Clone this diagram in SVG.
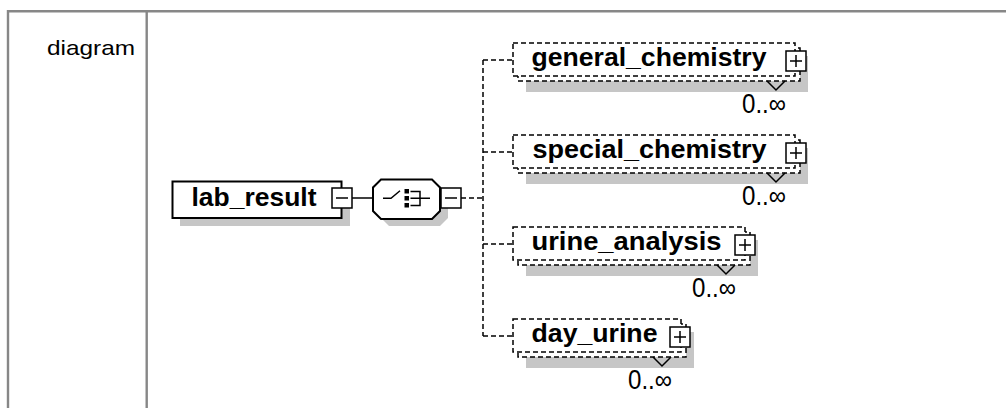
<svg xmlns="http://www.w3.org/2000/svg" width="1006" height="408" viewBox="0 0 1006 408">
  <style>
    .frame { fill: none; stroke: #878787; stroke-width: 2.4; }
    .shadow { fill: #c6c6c6; }
    .box { fill: #fff; stroke: #000; stroke-width: 2; }
    .opt { fill: #fff; stroke: #000; stroke-width: 1.5; stroke-dasharray: 5 3; }
    .btn { fill: #fff; stroke: #000; stroke-width: 1.5; }
    .glyph { fill: none; stroke: #000; stroke-width: 1.5; }
    .conn { fill: none; stroke: #000; stroke-width: 1.5; }
    .dashed { stroke-dasharray: 5 3; }
    .name { font-family: "Liberation Sans", Arial, sans-serif; font-weight: bold; font-size: 26px; fill: #000; }
    .card { font-family: "Liberation Sans", Arial, sans-serif; font-size: 27px; fill: #000; }
    .label { font-family: "Liberation Sans", Arial, sans-serif; font-size: 21px; fill: #000; }
  </style>
  <defs>
    <g id="minus">
      <rect class="btn" x="0" y="0" width="20" height="20"/>
      <path class="glyph" d="M4 10H16"/>
    </g>
    <g id="plus">
      <rect class="btn" x="0" y="0" width="20" height="20"/>
      <path class="glyph" d="M4 10H16M10 4V16"/>
    </g>
  </defs>

  <!-- table frame -->
  <rect width="1006" height="408" fill="#fff"/>
  <path class="frame" d="M8 408V11.3H1006M146.7 11.3V408"/>
  <text class="label" x="47" y="55" textLength="88" lengthAdjust="spacingAndGlyphs">diagram</text>

  <!-- connectors -->
  <g id="connectors">
    <path class="conn" d="M352 198H373"/>
    <path class="conn dashed" d="M461 198H483"/>
    <path class="conn dashed" d="M483 60V336"/>
    <path class="conn dashed" d="M483 60H513M483 152H513M483 244H513M483 336H513"/>
  </g>

  <!-- root element -->
  <g id="lab_result">
    <rect class="shadow" x="180" y="190" width="170" height="36"/>
    <rect class="box" x="172.5" y="181.5" width="169" height="36.5"/>
    <text class="name" x="191.5" y="206" textLength="125" lengthAdjust="spacingAndGlyphs">lab_result</text>
    <use href="#minus" x="332" y="188"/>
  </g>

  <!-- choice compositor -->
  <g id="choice">
    <path class="shadow" d="M389 186H440L448 194V218L440 226H389L381 218V194Z"/>
    <path class="box" stroke-width="1.6" d="M381 179.5H432L440 187.5V211L432 219H381L373 211V187.5Z"/>
    <path class="glyph" d="M383 198.3H391L400 190.7"/>
    <rect x="404.5" y="189" width="4.5" height="4.5" fill="#000"/>
    <rect x="404.5" y="196" width="4.5" height="4.5" fill="#000"/>
    <rect x="404.5" y="203" width="4.5" height="4.5" fill="#000"/>
    <path class="glyph" d="M410.5 191.5H420V205.5H410.5M410.5 198.3H430"/>
    <use href="#minus" x="441" y="188"/>
  </g>

  <!-- child elements (optional, repeating) -->
  <g id="general_chemistry">
    <rect class="shadow" x="526" y="56" width="282" height="36"/>
    <rect class="opt" x="518" y="48" width="282" height="33"/>
    <rect class="opt" x="513" y="43" width="282" height="33"/>
    <text class="name" x="531.5" y="65.5" textLength="235" lengthAdjust="spacingAndGlyphs">general_chemistry</text>
    <use href="#plus" x="786" y="51"/>
    <path class="glyph" stroke-width="1.3" d="M767 81L776 90L785 81"/>
    <text class="card" x="742" y="113" textLength="44" lengthAdjust="spacingAndGlyphs">0..∞</text>
  </g>

  <g id="special_chemistry">
    <rect class="shadow" x="526" y="148" width="282" height="36"/>
    <rect class="opt" x="518" y="140" width="282" height="33"/>
    <rect class="opt" x="513" y="135" width="282" height="33"/>
    <text class="name" x="532.5" y="157.5" textLength="234" lengthAdjust="spacingAndGlyphs">special_chemistry</text>
    <use href="#plus" x="786" y="143"/>
    <path class="glyph" stroke-width="1.3" d="M767 173L776 182L785 173"/>
    <text class="card" x="742" y="205" textLength="44" lengthAdjust="spacingAndGlyphs">0..∞</text>
  </g>

  <g id="urine_analysis">
    <rect class="shadow" x="526" y="240" width="232" height="36"/>
    <rect class="opt" x="518" y="232" width="232" height="33"/>
    <rect class="opt" x="513" y="227" width="232" height="33"/>
    <text class="name" x="531.5" y="249.5" textLength="190" lengthAdjust="spacingAndGlyphs">urine_analysis</text>
    <use href="#plus" x="735" y="235"/>
    <path class="glyph" stroke-width="1.3" d="M717 265L726 274L735 265"/>
    <text class="card" x="692" y="297" textLength="44" lengthAdjust="spacingAndGlyphs">0..∞</text>
  </g>

  <g id="day_urine">
    <rect class="shadow" x="526" y="332" width="168" height="36"/>
    <rect class="opt" x="518" y="324" width="168" height="33"/>
    <rect class="opt" x="513" y="319" width="168" height="33"/>
    <text class="name" x="531.5" y="341.5" textLength="126" lengthAdjust="spacingAndGlyphs">day_urine</text>
    <use href="#plus" x="670" y="327"/>
    <path class="glyph" stroke-width="1.3" d="M653 357L662 366L671 357"/>
    <text class="card" x="628" y="389" textLength="44" lengthAdjust="spacingAndGlyphs">0..∞</text>
  </g>
</svg>
